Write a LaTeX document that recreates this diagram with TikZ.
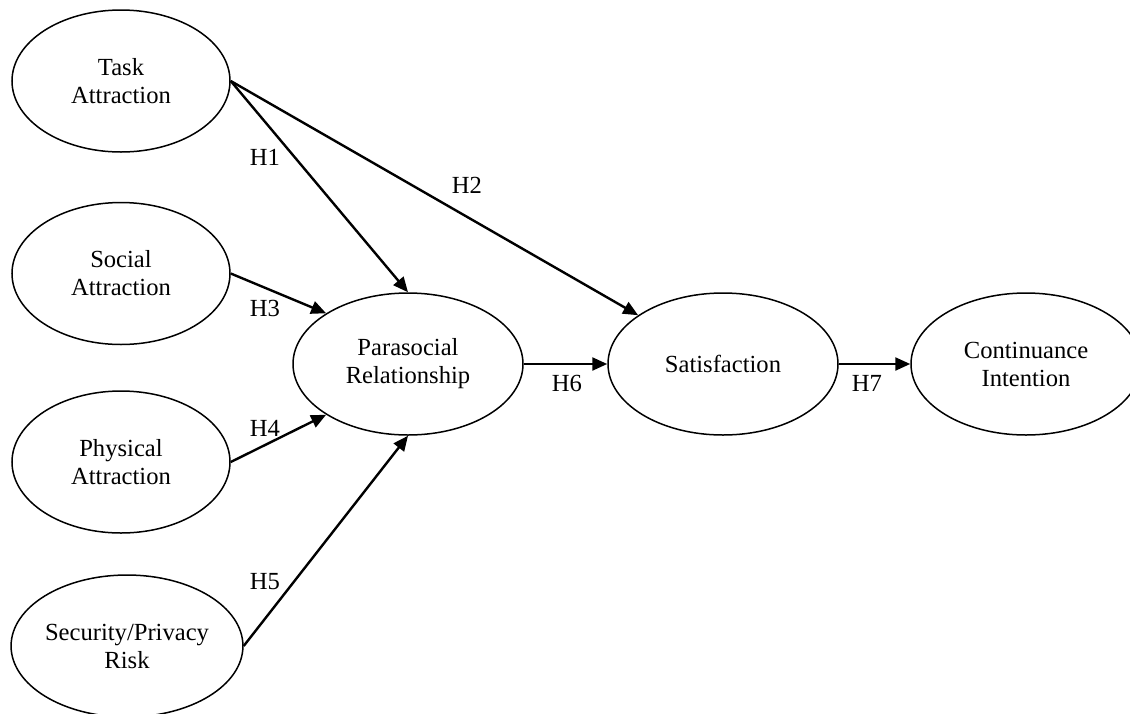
\documentclass[tikz,border=0pt]{standalone}
\usepackage{fontspec}
\setmainfont{Liberation Serif}
\usetikzlibrary{
  arrows.meta,
  shapes.geometric
}
\tikzset{
  modelVar/.style={
    ellipse,
    draw=black,
    line width=0.75pt,
    minimum width=109pt,
    minimum height=71pt,
    align=center,
    inner sep=0pt,
    font=\fontsize{12.3}{14}\selectfont
  },
  hypArrow/.style={-{Triangle[length=7.5pt, width=6.5pt]}, line width=1.2pt, black},
  hypLabel/.style={font=\fontsize{12.3}{14}\selectfont, inner sep=0pt}
}

\begin{document}
\begin{tikzpicture}[x=0.5pt,y=-0.5pt,
  wideVar/.style={modelVar, minimum width=115pt}]
  \useasboundingbox (0,0) rectangle (1130,713);

  % antecedents
  \node[modelVar] (task) at (121,81) {Task\\Attraction};
  \node[modelVar] (social) at (121,273.5) {Social\\Attraction};
  \node[modelVar] (physical) at (121,462) {Physical\\Attraction};
  \node[wideVar] (security) at (127,646) {Security/Privacy\\Risk};

  % mediator and outcomes
  \node[wideVar] (para) at (408,364) {Parasocial\\Relationship};
  \node[wideVar] (satis) at (723,364) {Satisfaction};
  \node[wideVar] (contin) at (1026,364) {Continuance\\Intention};

  \draw[hypArrow] (task.east) -- (para.north);
  \draw[hypArrow] (task.east) -- (satis);
  \draw[hypArrow] (social.east) -- (para.north west);
  \draw[hypArrow] (physical.east) -- (para.south west);
  \draw[hypArrow] (security.east) -- (para.south);
  \draw[hypArrow] (para) -- (satis);
  \draw[hypArrow] (satis) -- (contin);

  % hypothesis labels
  \node[hypLabel] (h1) at (265,157) {H1};
  \node[hypLabel] (h2) at (467,185) {H2};
  \node[hypLabel] (h3) at (265,308) {H3};
  \node[hypLabel] (h4) at (265,428) {H4};
  \node[hypLabel] (h5) at (265,582) {H5};
  \node[hypLabel] (h6) at (567,383) {H6};
  \node[hypLabel] (h7) at (867,383) {H7};
\end{tikzpicture}
\end{document}
